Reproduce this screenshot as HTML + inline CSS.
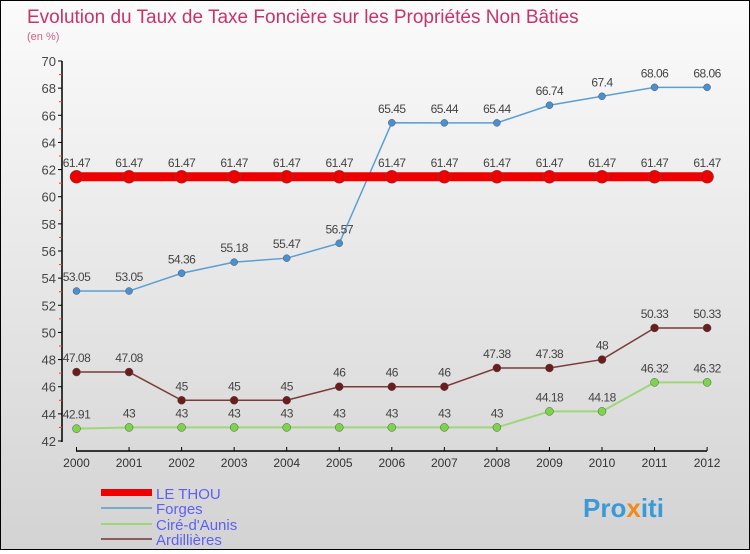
<!DOCTYPE html>
<html><head><meta charset="utf-8">
<style>
body{margin:0;width:750px;height:550px;overflow:hidden;font-family:"Liberation Sans",sans-serif}
#wrap{position:relative;width:748px;height:548px;border:1px solid #000;background:linear-gradient(#fbfbfb,#d3d3d3)}
</style></head><body>
<div id="wrap">
<svg id="chart" width="748" height="548">
<text x="26" y="22" font-size="19" fill="#c8336a">Evolution du Taux de Taxe Foncière sur les Propriétés Non Bâties</text>
<text x="26" y="39" font-size="11" fill="#d0608a">(en %)</text>
<g id="axes"></g><g id="series"></g>
<g>
<rect x="100" y="488" width="51" height="7" fill="#e00"/>
<text x="155" y="498" font-size="15" fill="#5f5ff5">LE THOU</text>
<line x1="100" y1="507" x2="151" y2="507" stroke="#79aacc" stroke-width="2"/>
<text x="155" y="513" font-size="15" fill="#5f5ff5">Forges</text>
<line x1="100" y1="523" x2="151" y2="523" stroke="#9ed67a" stroke-width="2"/>
<text x="155" y="529" font-size="15" fill="#5f5ff5">Ciré-d'Aunis</text>
<line x1="100" y1="538" x2="151" y2="538" stroke="#8b5a5a" stroke-width="2"/>
<text x="155" y="544" font-size="15" fill="#5f5ff5">Ardillières</text>
</g>
<text x="582" y="516" font-size="26" font-weight="bold" fill="#3a9ad9">Pro<tspan fill="#f08a1c">x</tspan>iti</text>
</svg></div>
<script>
const years=[2000,2001,2002,2003,2004,2005,2006,2007,2008,2009,2010,2011,2012];
const leThou=[61.47,61.47,61.47,61.47,61.47,61.47,61.47,61.47,61.47,61.47,61.47,61.47,61.47];
const forges=[53.05,53.05,54.36,55.18,55.47,56.57,65.45,65.44,65.44,66.74,67.4,68.06,68.06];
const cire=[42.91,43,43,43,43,43,43,43,43,44.18,44.18,46.32,46.32];
const ardil=[47.08,47.08,45,45,45,46,46,46,47.38,47.38,48,50.33,50.33];
const yTicks=[42,44,46,48,50,52,54,56,58,60,62,64,66,68,70];
const NS="http://www.w3.org/2000/svg";
const x=i=>75.5+i*52.55;
const y=v=>440-(v-42)*(380/28);
function mk(t,a,p){const e=document.createElementNS(NS,t);for(const k in a)e.setAttribute(k,a[k]);p.appendChild(e);return e;}
const ax=document.getElementById('axes');
let l=mk('line',{x1:61,y1:60,x2:61,y2:441,stroke:'#000','stroke-width':1.5},ax);


l=mk('line',{x1:75,y1:450,x2:706,y2:450,stroke:'#000','stroke-width':1.5},ax);


yTicks.forEach(v=>{
 mk('line',{x1:57,y1:y(v),x2:61,y2:y(v),stroke:'#000'},ax);
 if(v<70)mk('line',{x1:58,y1:y(v+1),x2:61,y2:y(v+1),stroke:'#f33'},ax);
 const t=mk('text',{x:55,y:y(v)+5,'font-size':13,fill:'#444','text-anchor':'end'},ax);t.textContent=v;
 
 
});
years.forEach((yr,i)=>{
 mk('line',{x1:x(i),y1:446,x2:x(i),y2:450,stroke:'#000'},ax);
 const t=mk('text',{x:x(i),y:466,'font-size':12,fill:'#333','text-anchor':'middle'},ax);t.textContent=yr;
 
 
});
const sg=document.getElementById('series');
function series(vals,color,dot,w,r,name){
 const g=mk('g',{},sg);
 
 
 mk('polyline',{points:vals.map((v,i)=>x(i)+','+y(v)).join(' '),fill:'none',stroke:color,'stroke-width':w},g);
 vals.forEach((v,i)=>{
  const c=mk('circle',{cx:x(i),cy:y(v),r:r,fill:dot,stroke:'#555','stroke-width':0.5},g);
  
  
  const t=mk('text',{x:x(i),y:y(v)-10,'font-size':12,fill:'#444','text-anchor':'middle','letter-spacing':'-0.5'},g);
  t.textContent=v;
  
  
 });
}
series(cire,'#9ed67a','#7cd44a',2,4,'cire-daunis');
series(ardil,'#7a3a3a','#6b1c1c',1.5,4,'ardillieres');
series(forges,'#5a9fd4','#4a90d0',1.5,3.5,'forges');
series(leThou,'#e00','#e00',9,6.5,'le-thou');
</script>
</body></html>
